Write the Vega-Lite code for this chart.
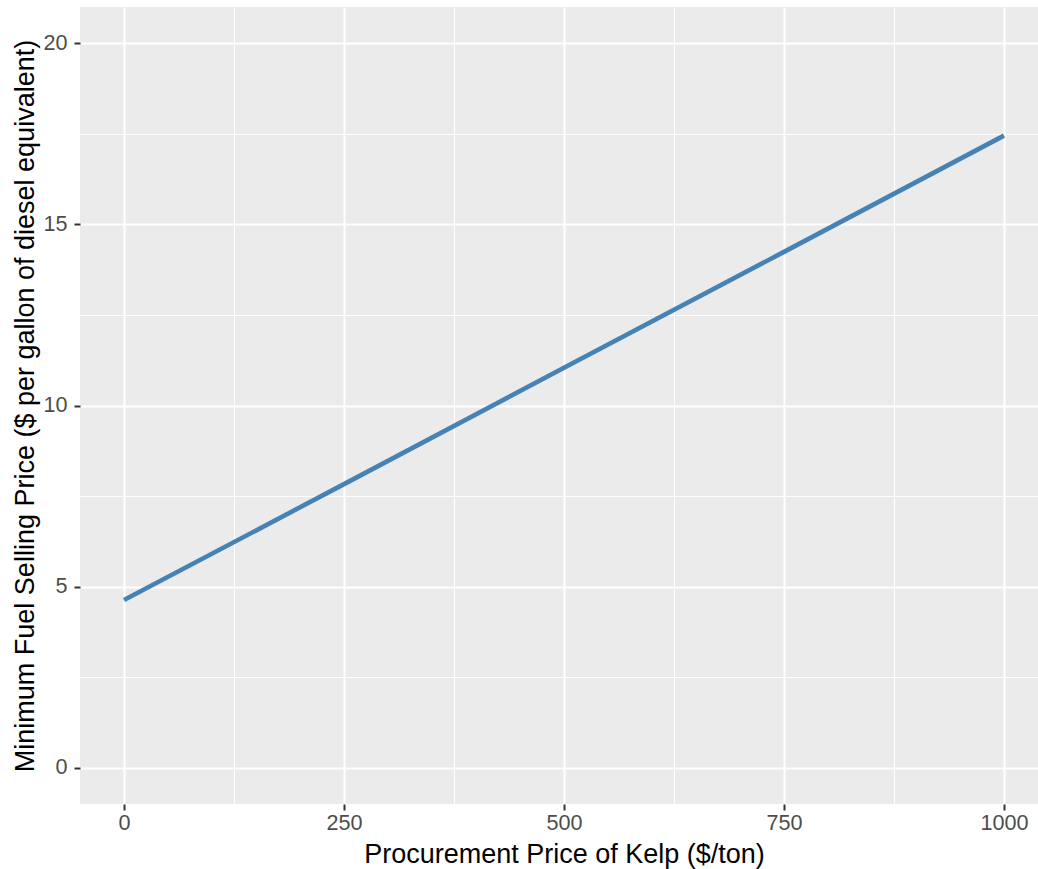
{
  "$schema": "https://vega.github.io/schema/vega-lite/v6.json",
  "width": 968,
  "height": 797,
  "autosize": {"type": "none"},
  "padding": {"left": 80, "top": 7, "right": 0, "bottom": 65},
  "background": "white",
  "config": {
    "font": "Liberation Sans",
    "view": {"fill": "#EBEBEB", "stroke": null},
    "axis": {
      "gridColor": "white",
      "domain": false,
      "tickColor": "#333333",
      "tickSize": 6,
      "tickWidth": 2,
      "labelColor": "#4D4D4D",
      "labelFontSize": 21.6,
      "labelFont": "Liberation Sans",
      "titleFont": "Liberation Sans",
      "titleFontSize": 27,
      "titleFontWeight": "normal",
      "titleColor": "black"
    }
  },
  "data": {
    "values": [
      {"price": 0, "mfsp": 4.63},
      {"price": 250, "mfsp": 7.83},
      {"price": 500, "mfsp": 11.04},
      {"price": 750, "mfsp": 14.24},
      {"price": 1000, "mfsp": 17.45}
    ]
  },
  "layer": [
    {
      "mark": {"type": "line", "opacity": 0},
      "encoding": {
        "x": {"field": "price", "type": "quantitative", "scale": {"domain": [-50, 1050], "nice": false, "zero": false},
          "axis": {"orient": "top", "values": [125, 375, 625, 875], "grid": true, "gridWidth": 1.1, "labels": false, "ticks": false, "title": null}},
        "y": {"field": "mfsp", "type": "quantitative", "scale": {"domain": [-1, 21], "nice": false, "zero": false},
          "axis": {"orient": "right", "values": [2.5, 7.5, 12.5, 17.5], "grid": true, "gridWidth": 1.1, "labels": false, "ticks": false, "title": null}}
      }
    },
    {
      "mark": {"type": "line", "color": "#4682B4", "strokeWidth": 4.6},
      "encoding": {
        "x": {"field": "price", "type": "quantitative", "scale": {"domain": [-50, 1050], "nice": false, "zero": false},
          "axis": {"values": [0, 250, 500, 750, 1000], "format": "d", "grid": true, "gridWidth": 2.1, "labelPadding": 2, "title": "Procurement Price of Kelp ($/ton)", "titlePadding": 8}},
        "y": {"field": "mfsp", "type": "quantitative", "scale": {"domain": [-1, 21], "nice": false, "zero": false},
          "axis": {"values": [0, 5, 10, 15, 20], "grid": true, "gridWidth": 2.1, "labelPadding": 7, "title": "Minimum Fuel Selling Price ($ per gallon of diesel equivalent)", "titlePadding": 3}}
      }
    }
  ],
  "resolve": {"axis": {"x": "independent", "y": "independent"}}
}
